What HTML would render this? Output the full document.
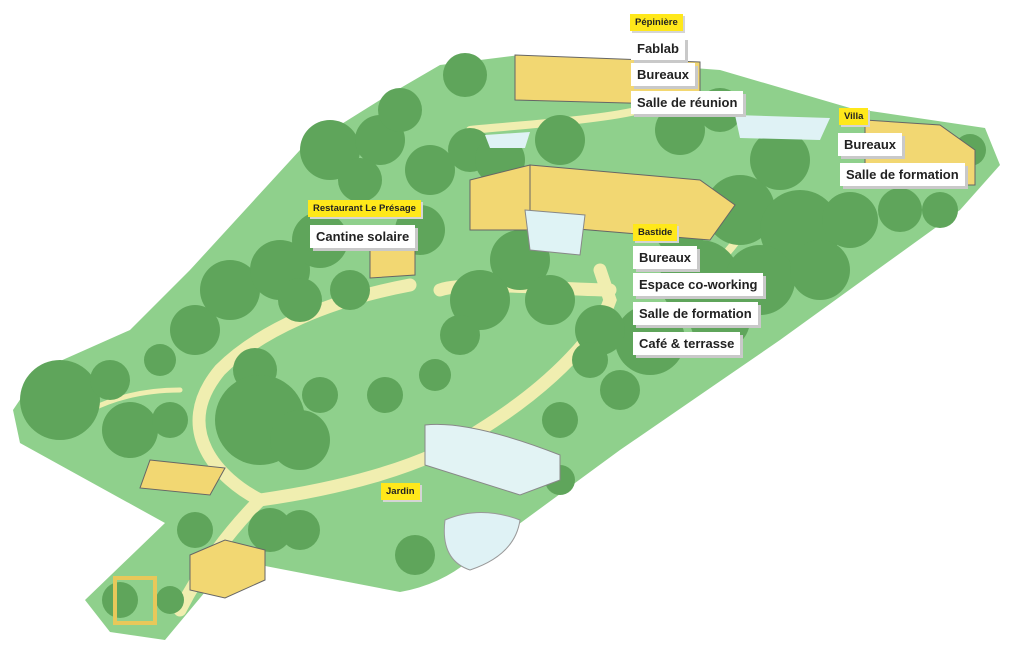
<!DOCTYPE html>
<html><head><meta charset="utf-8"><style>
body{margin:0;width:1024px;height:649px;background:#fff;overflow:hidden;position:relative;font-family:"Liberation Sans",sans-serif}
svg{position:absolute;left:0;top:0}
.w{position:absolute;background:#fff;color:#222;font-weight:bold;font-size:13px;padding:4px 6px;box-shadow:3px 3px 0 #c9c9c9;white-space:nowrap}
.y{position:absolute;background:#ffe81a;color:#222;font-weight:bold;font-size:9.5px;padding:3px 5px;box-shadow:2px 2px 0 #d5d5d5;white-space:nowrap}
</style></head><body>
<svg width="1024" height="649" viewBox="0 0 1024 649">
<path d="M440,65 L520,55 L720,70 L850,108 L985,128 L1000,165 L960,210 L780,340 L620,450 L470,560 Q440,585 400,592 L260,565 L230,562 L165,640 L110,632 L85,600 L165,523 L20,443 L13,410 L40,370 L130,330 L190,270 L300,150 L380,100 Z" fill="#8fd08c"/>
<g fill="none" stroke="#f0eeb0" stroke-width="13" stroke-linecap="round">
<path d="M410,285 C330,300 260,330 220,370 C170,430 220,480 260,500 C230,530 200,570 180,610"/>
<path d="M260,500 C330,490 420,470 480,430 C560,380 600,330 610,300 L600,270"/>
<path d="M440,290 C470,280 560,290 610,290"/>
<path d="M90,410 C120,395 150,390 180,390" stroke-width="5"/>
<path d="M720,260 C740,240 750,220 760,200" stroke-width="8"/>
<path d="M470,130 C520,125 600,120 640,110" stroke-width="8"/>
</g>
<g fill="#5fa55b">
<circle cx="60" cy="400" r="40"/><circle cx="130" cy="430" r="28"/><circle cx="110" cy="380" r="20"/>
<circle cx="170" cy="420" r="18"/><circle cx="255" cy="370" r="22"/><circle cx="195" cy="330" r="25"/>
<circle cx="230" cy="290" r="30"/><circle cx="280" cy="270" r="30"/><circle cx="320" cy="240" r="28"/>
<circle cx="350" cy="290" r="20"/><circle cx="330" cy="150" r="30"/><circle cx="380" cy="140" r="25"/>
<circle cx="400" cy="110" r="22"/><circle cx="465" cy="75" r="22"/><circle cx="430" cy="170" r="25"/>
<circle cx="470" cy="150" r="22"/><circle cx="500" cy="160" r="25"/><circle cx="560" cy="140" r="25"/>
<circle cx="420" cy="230" r="25"/><circle cx="520" cy="260" r="30"/><circle cx="480" cy="300" r="30"/>
<circle cx="550" cy="300" r="25"/><circle cx="260" cy="420" r="45"/><circle cx="300" cy="440" r="30"/>
<circle cx="270" cy="530" r="22"/><circle cx="300" cy="530" r="20"/><circle cx="415" cy="555" r="20"/>
<circle cx="680" cy="130" r="25"/><circle cx="720" cy="110" r="22"/><circle cx="780" cy="160" r="30"/>
<circle cx="740" cy="210" r="35"/><circle cx="800" cy="230" r="40"/><circle cx="700" cy="280" r="40"/>
<circle cx="650" cy="340" r="35"/><circle cx="600" cy="330" r="25"/><circle cx="760" cy="280" r="35"/>
<circle cx="850" cy="220" r="28"/><circle cx="900" cy="210" r="22"/><circle cx="940" cy="210" r="18"/>
<circle cx="970" cy="150" r="16"/><circle cx="620" cy="390" r="20"/><circle cx="560" cy="420" r="18"/>
<circle cx="590" cy="360" r="18"/><circle cx="460" cy="335" r="20"/><circle cx="385" cy="395" r="18"/>
<circle cx="320" cy="395" r="18"/><circle cx="435" cy="375" r="16"/><circle cx="195" cy="530" r="18"/>
<circle cx="120" cy="600" r="18"/><circle cx="170" cy="600" r="14"/><circle cx="560" cy="480" r="15"/>
<circle cx="720" cy="320" r="30"/><circle cx="820" cy="270" r="30"/><circle cx="680" cy="230" r="25"/>
<circle cx="360" cy="180" r="22"/><circle cx="300" cy="300" r="22"/><circle cx="160" cy="360" r="16"/>
</g>
<path d="M515,55 L700,62 L700,105 L515,100 Z" fill="#f2d772" stroke="#666" stroke-width="1"/>
<path d="M470,180 L530,165 L530,230 L470,230 Z" fill="#f2d772" stroke="#666" stroke-width="1"/>
<path d="M530,165 L700,180 L735,205 L710,240 L530,225 Z" fill="#f2d772" stroke="#666" stroke-width="1"/>
<path d="M525,210 L585,215 L580,255 L530,250 Z" fill="#dff3f5" stroke="#888"/>
<path d="M865,120 L940,125 L975,150 L975,185 L865,185 Z" fill="#f2d772" stroke="#666"/>
<path d="M370,250 L400,240 L415,250 L415,275 L370,278 Z" fill="#f2d772" stroke="#666"/>
<path d="M150,460 L225,468 L210,495 L140,488 Z" fill="#f2d772" stroke="#666"/>
<path d="M190,555 L225,540 L265,550 L265,580 L225,598 L190,590 Z" fill="#f2d772" stroke="#666"/>
<path d="M425,425 Q470,420 560,455 L560,480 L520,495 L425,465 Z" fill="#e2f3f4" stroke="#888"/>
<path d="M445,520 Q480,505 520,520 Q515,555 470,570 Q440,560 445,520 Z" fill="#dff2f5" stroke="#999"/>
<path d="M735,115 L830,118 L820,140 L740,138 Z" fill="#dff2f5"/>
<path d="M485,135 L530,132 L525,148 L490,148 Z" fill="#dff2f5"/>
<rect x="115" y="578" width="40" height="45" fill="none" stroke="#e8c85a" stroke-width="4"/>
</svg>
<div class="y" style="left:630px;top:14px">Pépinière</div>
<div class="w" style="left:631px;top:37px">Fablab</div>
<div class="w" style="left:631px;top:63px">Bureaux</div>
<div class="w" style="left:631px;top:91px">Salle de réunion</div>
<div class="y" style="left:839px;top:108px">Villa</div>
<div class="w" style="left:838px;top:133px">Bureaux</div>
<div class="w" style="left:840px;top:163px">Salle de formation</div>
<div class="y" style="left:308px;top:200px">Restaurant Le Présage</div>
<div class="w" style="left:310px;top:225px">Cantine solaire</div>
<div class="y" style="left:633px;top:224px">Bastide</div>
<div class="w" style="left:633px;top:246px">Bureaux</div>
<div class="w" style="left:633px;top:273px">Espace co-working</div>
<div class="w" style="left:633px;top:302px">Salle de formation</div>
<div class="w" style="left:633px;top:332px">Café &amp; terrasse</div>
<div class="y" style="left:381px;top:483px">Jardin</div>
</body></html>
